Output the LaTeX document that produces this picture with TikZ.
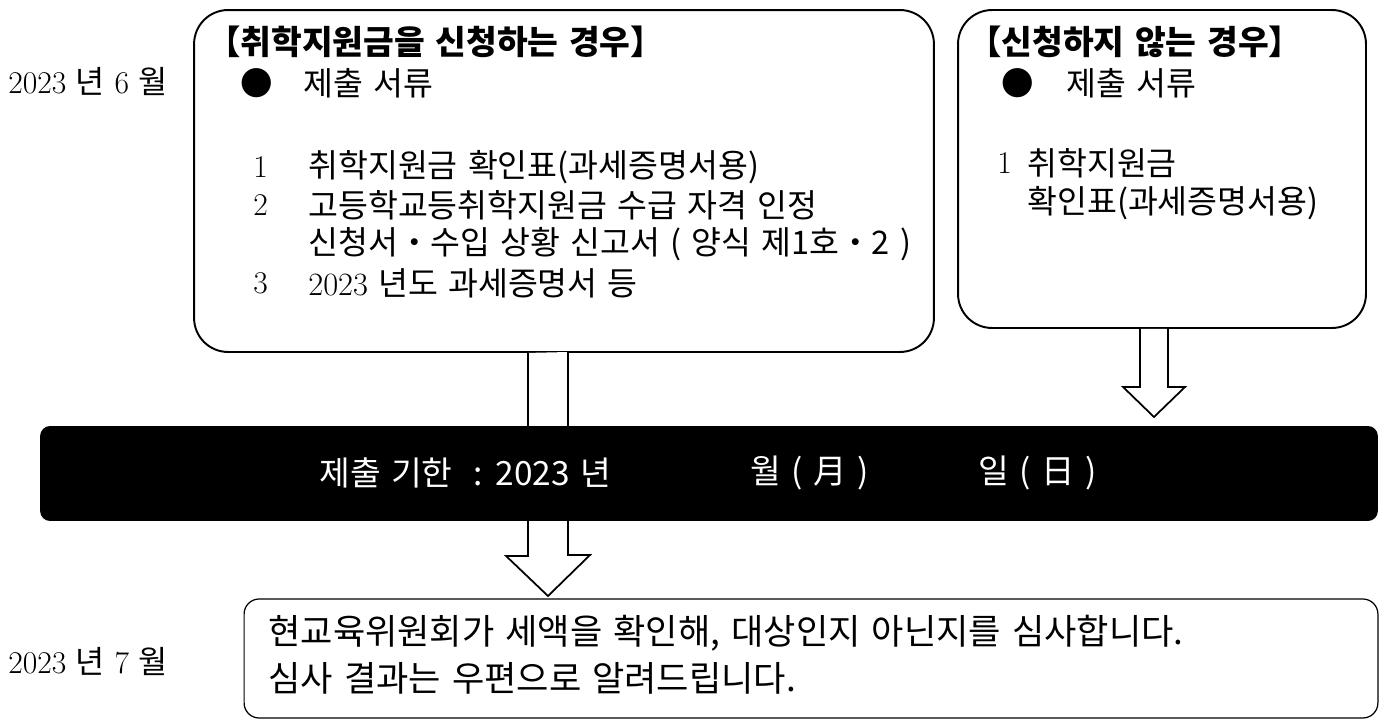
\documentclass[tikz,border=0pt]{standalone}
\usepackage{fontspec}
\newfontfamily\kr{Noto Sans CJK KR}
\newfontfamily\krw{Noto Sans CJK KR}[WordSpace=1.4]
\usetikzlibrary{positioning}

\tikzset{
  box/.style={draw,line width=1.1pt,rounded corners=0.68cm,inner sep=0},
  txt/.style={anchor=west,inner sep=0,font=\fontsize{18.5}{22}\selectfont\krw},
  num/.style={anchor=west,inner sep=0,font=\fontsize{18}{21}\selectfont},
  ttl/.style={anchor=west,inner sep=0,font=\fontsize{19}{22}\selectfont\kr\bfseries},
  bandtxt/.style={anchor=west,inner sep=0,text=white,font=\fontsize{19}{23}\selectfont\kr},
  msg/.style={anchor=west,inner sep=0,font=\fontsize{20}{24}\selectfont\krw},
  hollow/.style={draw,line width=1pt,fill=white,line join=miter}
}

\begin{document}
\begin{tikzpicture}[x=0.02cm,y=-0.02cm]
\useasboundingbox (0,0) rectangle (1380,720);

\node[box,minimum width=14.8cm,minimum height=6.84cm] (apply) at (564,181) {};
\node[box,minimum width=8.16cm,minimum height=6.36cm] (skip) at (1162,169) {};

\coordinate (tipA) at (548,596);
\coordinate (tipB) at (1154,417);
\draw[hollow] (apply.south -| tipA) ++(-20,0) -- ++(0,203) -- ++(-22,0) -- (tipA)
   -- ++(42,-41) -- ++(-22,0) -- ++(0,-203);
\draw[hollow] (skip.south -| tipB) ++(-14,0) -- ++(0,58) -- ++(-17,0) -- (tipB)
   -- ++(31,-30) -- ++(-17,0) -- ++(0,-58);

\node[fill=black,rounded corners=0.2cm,inner sep=0,minimum width=26.76cm,minimum height=1.9cm] (due) at (709,473.5) {};
\node[bandtxt] (dueDate) at (319,473) {제출 기한 \ : 2023 년};
\node[bandtxt] (dueMonth) at (750,473) {월 ( 月 )};
\node[bandtxt] (dueDay) at (978,473) {일 ( 日 )};

\node[box,line width=0.7pt,rounded corners=0.3cm,minimum width=22.68cm,minimum height=2.38cm] (review) at (811,658.5) {};
\node[msg] (reviewA) at (268,633) {현교육위원회가 세액을 확인해, 대상인지 아닌지를 심사합니다.};
\node[msg] (reviewB) at (268,678) {심사 결과는 우편으로 알려드립니다.};

\node[num] (june) at (8,82) {2023 {\krw 년} 6 {\krw 월}};
\node[num] (july) at (8,662) {2023 {\krw 년} 7 {\krw 월}};

\node[ttl] (applyTtl) at (207,42) {【취학지원금을 신청하는 경우】};
\node[txt] (applyDot) at (240,83) {●};
\node[txt] (applyDoc) at (303,83) {제출 서류};
\node[num] (itemA) at (253,167) {1};
\node[txt] (docA) at (308,167) {취학지원금 확인표(과세증명서용)};
\node[num] (itemB) at (253,205) {2};
\node[txt] (docB) at (308,205) {고등학교등취학지원금 수급 자격 인정};
\node[txt] (docBb) at (308,244) {신청서・수입 상황 신고서 ( 양식 제1호・2 )};
\node[num] (itemC) at (253,283) {3};
\node[txt] (docC) at (308,283) {{\rmfamily 2023} 년도 과세증명서 등};

\node[ttl] (skipTtl) at (968,42) {【신청하지 않는 경우】};
\node[txt] (skipDot) at (1001,83) {●};
\node[txt] (skipDoc) at (1066,83) {제출 서류};
\node[num] (skipItem) at (997,163) {1};
\node[txt] (skipDocA) at (1027,163) {취학지원금};
\node[txt] (skipDocAb) at (1027,203) {확인표(과세증명서용)};
\end{tikzpicture}
\end{document}
